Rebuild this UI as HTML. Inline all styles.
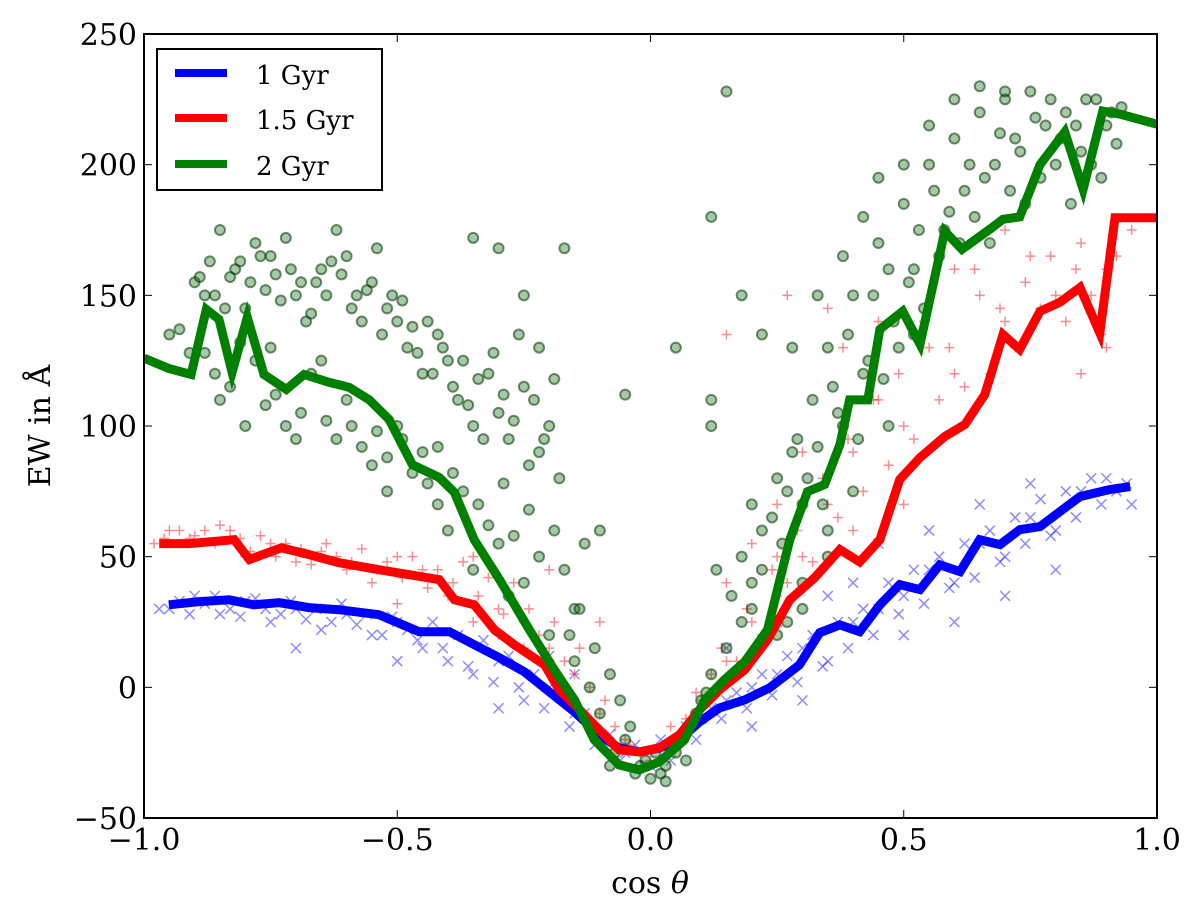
<!DOCTYPE html>
<html><head><meta charset="utf-8"><style>
html,body{margin:0;padding:0;background:#fff;}
svg text{font-family:"DejaVu Serif","Liberation Serif",serif;fill:#000;}
</style></head><body>
<svg id="chart" width="1200" height="913" viewBox="0 0 1200 913" xmlns="http://www.w3.org/2000/svg">
<defs><clipPath id="clip"><rect x="144" y="34" width="1013" height="784"/></clipPath></defs>
<g id="scatter" clip-path="url(#clip)"></g>
<g id="lines" clip-path="url(#clip)"></g>
<rect x="144" y="34" width="1013" height="784" fill="none" stroke="#000" stroke-width="2"/>
<g id="axes"></g>
<g>
<rect x="157" y="49" width="225" height="141" fill="#fff" stroke="#000" stroke-width="2"/>
<line x1="175" y1="73" x2="227" y2="73" stroke="#0000ff" stroke-width="8"/>
<text x="256" y="84" font-size="26">1 Gyr</text>
<line x1="175" y1="118" x2="227" y2="118" stroke="#ff0000" stroke-width="8"/>
<text x="256" y="129" font-size="26">1.5 Gyr</text>
<line x1="175" y1="164" x2="227" y2="164" stroke="#008000" stroke-width="8"/>
<text x="256" y="175" font-size="26">2 Gyr</text>
</g>
<text x="650" y="893" font-size="30" text-anchor="middle">cos <tspan font-style="italic">θ</tspan></text>
<text x="0" y="0" font-size="30" text-anchor="middle" transform="translate(50,426) rotate(-90)">EW in Å</text>
</svg>
<script>
const xTicks=[-1.0,-0.5,0.0,0.5,1.0];
const xTickLabels=["−1.0","−0.5","0.0","0.5","1.0"];
const yTicks=[-50,0,50,100,150,200,250];
const yTickLabels=["−50","0","50","100","150","200","250"];
const blueX=[-0.951,-0.891,-0.832,-0.783,-0.733,-0.674,-0.615,-0.536,-0.457,-0.397,-0.348,-0.298,-0.249,-0.2,-0.15,-0.101,-0.062,-0.022,0.018,0.057,0.097,0.136,0.186,0.235,0.294,0.334,0.374,0.413,0.453,0.492,0.532,0.571,0.611,0.65,0.69,0.729,0.769,0.808,0.848,0.907,0.947];
const blueY=[31.6,32.8,33.5,31.6,32.4,30.5,29.7,27.8,21.3,21.3,16.3,11.3,5.9,-1.7,-9.4,-18.2,-23.2,-24.7,-23.2,-20.1,-13.2,-7.9,-4.8,-0.2,8.6,20.9,23.9,21.3,31.6,39.3,37.4,46.9,44.3,56.5,54.6,60.3,61.5,67.2,73,75.7,76.8];
const redX=[-0.97,-0.911,-0.822,-0.792,-0.729,-0.674,-0.615,-0.536,-0.476,-0.417,-0.387,-0.348,-0.308,-0.269,-0.239,-0.209,-0.18,-0.14,-0.101,-0.062,-0.022,0.018,0.057,0.097,0.136,0.186,0.231,0.275,0.324,0.374,0.413,0.453,0.492,0.532,0.581,0.621,0.66,0.696,0.729,0.769,0.808,0.848,0.887,0.917,1.0];
const redY=[55,55,56.5,48.9,53.4,50.8,47.7,45,43.1,41.2,33.5,31.6,22,16.3,12.5,8.6,-1,-8.6,-16.3,-23.9,-24.7,-23.1,-18.2,-8.6,-1,6.7,18.2,33.5,41.9,52.7,48,56.5,79.5,87.9,96,100.6,112,135,129.3,143.9,147.3,153,135.6,179.7,179.7];
const greenX=[-1.0,-0.951,-0.907,-0.877,-0.852,-0.826,-0.796,-0.763,-0.719,-0.684,-0.634,-0.595,-0.555,-0.516,-0.47,-0.417,-0.387,-0.348,-0.298,-0.239,-0.19,-0.15,-0.111,-0.062,-0.022,0.018,0.067,0.107,0.146,0.186,0.231,0.275,0.31,0.344,0.374,0.393,0.429,0.453,0.498,0.532,0.581,0.615,0.67,0.696,0.729,0.769,0.818,0.854,0.893,0.927,1.0];
const greenY=[126,122,119.7,144.6,140.8,120.5,141.6,119.7,114,119.7,116.7,114.8,110,102.5,85.2,80.3,74.5,56.5,41.2,22,6.7,-4.8,-20.1,-29.7,-31.6,-28.5,-20.1,-4.8,2.9,9.8,22,56.5,74.9,77.6,92.9,110,110,137,143.9,131.3,174.5,167.6,175.3,179.1,180,200,212.5,190.6,220.5,219.3,215.5];
const gScatX=[-0.95,-0.9,-0.88,-0.85,-0.82,-0.8,-0.78,-0.75,-0.72,-0.7,-0.68,-0.65,-0.62,-0.6,-0.58,-0.55,-0.52,-0.5,-0.48,-0.45,-0.42,-0.4,-0.38,-0.35,-0.32,-0.3,-0.28,-0.25,-0.22,-0.2,-0.18,-0.85,-0.8,-0.75,-0.7,-0.65,-0.6,-0.55,-0.52,-0.5,-0.45,-0.42,-0.4,-0.35,-0.3,-0.28,-0.25,-0.2,-0.15,-0.12,-0.1,-0.05,-0.02,0.02,0.05,0.08,0.1,0.12,0.15,0.18,0.2,0.22,0.25,0.28,0.3,0.32,0.35,0.38,0.4,0.42,0.45,0.48,0.5,0.52,0.55,0.58,0.6,0.62,0.65,0.68,0.7,0.72,0.75,0.78,0.8,0.82,0.85,0.88,0.9,0.93,0.3,0.35,0.25,0.15,0.12,0.05,-0.05,0.12,0.2,-0.1,-0.15,-0.08,0.0,0.03,-0.03,0.07,
-0.93,-0.91,-0.89,-0.87,-0.86,-0.84,-0.83,-0.81,-0.79,-0.77,-0.76,-0.74,-0.73,-0.71,-0.69,-0.67,-0.66,-0.64,-0.63,-0.61,-0.59,-0.57,-0.56,-0.54,-0.53,-0.51,-0.49,-0.47,-0.46,-0.44,-0.43,-0.41,-0.39,-0.37,-0.36,-0.34,-0.33,-0.31,-0.29,-0.27,-0.26,-0.24,-0.23,-0.21,-0.19,-0.17,-0.3,-0.35,-0.25,-0.22,
-0.88,-0.86,-0.83,-0.81,-0.78,-0.76,-0.74,-0.72,-0.69,-0.67,-0.64,-0.62,-0.59,-0.57,-0.54,-0.52,-0.49,-0.47,-0.44,-0.42,-0.39,-0.37,-0.34,-0.32,-0.29,-0.27,-0.24,-0.22,-0.19,-0.17,-0.13,-0.14,-0.16,-0.11,-0.08,-0.06,-0.04,-0.07,-0.01,0.01,0.03,0.06,0.09,0.11,
0.13,0.16,0.18,0.2,0.22,0.24,0.26,0.27,0.29,0.31,0.33,0.34,0.36,0.37,0.39,0.41,0.43,0.44,0.46,0.47,0.49,0.51,0.53,0.54,0.56,0.57,0.59,0.61,0.63,0.64,0.66,0.67,0.69,0.71,0.73,0.74,0.76,0.77,0.79,0.81,0.83,0.84,0.86,0.87,0.89,0.91,0.92,0.55,0.5,0.45,0.42,0.38,0.33,0.28,0.22,0.18,0.12,0.3,0.27,0.35,0.6,0.65,0.7,0.47,0.4,0.52];
const gScatY=[135,155,150,175,160,145,170,165,172,150,140,160,175,165,150,155,145,140,130,120,135,125,110,100,120,105,95,115,90,100,80,110,100,130,95,125,110,85,75,100,90,70,60,45,55,35,40,20,10,0,-10,-20,-30,-33,-25,-15,-5,5,15,25,40,60,80,90,70,110,130,100,150,120,170,140,185,160,200,175,210,190,220,200,225,210,228,215,200,220,205,225,215,222,30,60,20,228,180,130,112,100,70,60,30,-30,-35,-36,-33,-28,
137,128,157,163,150,145,157,163,155,165,152,158,148,160,155,143,155,150,163,158,145,140,152,168,135,150,148,138,128,140,120,130,115,125,108,118,95,128,112,102,135,85,110,95,118,168,168,172,150,130,
128,120,115,132,125,108,112,100,105,120,102,95,100,92,98,88,95,82,78,92,82,75,70,62,78,58,68,50,60,45,55,30,20,15,5,-5,-15,-25,-28,-25,-30,-20,-10,-2,
45,35,50,30,45,65,55,75,95,80,92,70,115,105,135,95,125,150,118,160,130,155,175,145,190,165,182,170,200,180,195,170,212,190,205,185,218,195,225,210,185,215,225,200,195,220,208,215,200,195,180,165,150,130,135,150,110,40,25,50,225,230,228,100,75,135];
const rScatX=[-0.98,-0.95,-0.9,-0.85,-0.8,-0.75,-0.7,-0.65,-0.6,-0.55,-0.5,-0.45,-0.4,-0.35,-0.3,-0.25,-0.2,-0.15,-0.1,-0.05,0.0,0.05,0.1,0.15,0.2,0.25,0.3,0.35,0.4,0.45,0.5,0.55,0.6,0.65,0.7,0.75,0.8,0.85,0.9,0.95,0.35,0.4,0.5,0.6,0.7,0.45,0.25,0.15,-0.2,-0.1,0.9,0.85,
-0.96,-0.93,-0.91,-0.88,-0.86,-0.83,-0.81,-0.79,-0.77,-0.74,-0.72,-0.69,-0.67,-0.64,-0.62,-0.59,-0.57,-0.54,-0.52,-0.49,-0.47,-0.44,-0.42,-0.39,-0.37,-0.34,-0.32,-0.29,-0.27,-0.24,-0.22,-0.19,-0.17,-0.14,-0.12,-0.09,-0.07,-0.04,-0.02,0.02,0.04,0.07,0.09,0.12,0.14,0.17,0.19,0.22,0.24,0.27,0.29,0.32,0.34,0.37,0.39,0.42,0.44,0.47,0.49,0.52,0.54,0.57,0.59,0.62,0.64,0.67,0.69,0.72,0.74,0.77,0.79,0.82,0.84,0.87,0.89,0.92,0.3,0.25,0.2,0.38,0.27,0.15,-0.3,-0.25,-0.35,-0.5];
const rScatY=[55,60,58,62,50,55,48,52,45,40,50,45,35,50,30,25,15,5,-10,-20,-28,-20,-5,10,25,35,50,70,90,110,100,130,120,150,140,165,150,170,160,175,145,60,70,160,175,140,50,40,45,25,130,120,
57,60,57,60,55,60,57,52,58,50,55,53,47,55,50,48,53,45,48,42,50,38,45,40,48,35,42,28,40,30,20,25,10,15,0,-5,-15,-22,-25,-28,-15,-12,-2,5,15,10,30,20,45,40,60,48,80,65,95,75,110,85,120,95,140,110,130,115,160,120,145,130,155,145,165,140,160,150,135,165,90,70,55,130,150,135,20,15,25,32];
const bScatX=[-0.95,-0.9,-0.85,-0.8,-0.75,-0.7,-0.65,-0.6,-0.55,-0.5,-0.45,-0.4,-0.35,-0.3,-0.25,-0.2,-0.15,-0.1,-0.05,0.0,0.05,0.1,0.15,0.2,0.25,0.3,0.35,0.4,0.45,0.5,0.55,0.6,0.65,0.7,0.75,0.8,0.85,0.9,0.95,0.5,0.6,0.7,0.8,0.4,-0.3,-0.5,-0.7,0.3,0.2,0.45,
-0.97,-0.93,-0.91,-0.88,-0.86,-0.83,-0.81,-0.78,-0.76,-0.73,-0.71,-0.68,-0.66,-0.63,-0.61,-0.58,-0.56,-0.53,-0.51,-0.48,-0.46,-0.43,-0.41,-0.38,-0.36,-0.33,-0.31,-0.28,-0.26,-0.23,-0.21,-0.18,-0.16,-0.13,-0.11,-0.08,-0.06,-0.03,-0.01,0.02,0.04,0.07,0.09,0.12,0.14,0.17,0.19,0.22,0.24,0.27,0.29,0.32,0.34,0.37,0.39,0.42,0.44,0.47,0.49,0.52,0.54,0.57,0.59,0.62,0.64,0.67,0.69,0.72,0.74,0.77,0.79,0.82,0.84,0.87,0.89,0.92,0.94,0.55,0.65,0.75,0.35,0.25,0.15,-0.2,-0.15];
const bScatY=[30,35,28,33,25,30,22,28,20,25,15,10,5,10,-5,0,-10,-20,-25,-30,-22,-12,-5,0,5,15,10,25,30,35,45,40,55,50,65,60,75,80,70,20,25,35,45,40,-8,10,15,-5,-15,55,
30,33,28,32,35,30,27,34,30,28,33,26,30,25,32,24,28,20,27,22,18,25,15,20,8,18,2,12,0,5,-8,-2,-15,-10,-22,-18,-28,-22,-30,-20,-28,-15,-20,-8,-12,-2,-8,5,-3,12,2,20,8,25,15,30,20,40,28,45,32,50,38,55,42,60,48,65,55,72,58,75,65,80,70,75,78,60,70,78,35,25,15,12,5];

const X0=144,X1=1157,Y0=818,Y1=34;
const sx=v=>X0+(v+1)/2*(X1-X0);
const sy=v=>Y0-(v+50)/300*(Y0-Y1);
const NS="http://www.w3.org/2000/svg";
function mk(tag,attrs,parent){const e=document.createElementNS(NS,tag);for(const k in attrs)e.setAttribute(k,attrs[k]);parent.appendChild(e);return e;}
const axes=document.getElementById('axes');
xTicks.forEach((t,i)=>{
  const x=sx(t);
  const a=mk('line',{x1:x,y1:Y0,x2:x,y2:Y0-8,stroke:'#000','stroke-width':1},axes);
  
  
  const b=mk('line',{x1:x,y1:Y1,x2:x,y2:Y1+8,stroke:'#000','stroke-width':1},axes);
  
  
  const tx=mk('text',{x:x,y:850,'font-size':30,'text-anchor':'middle'},axes);
  tx.textContent=xTickLabels[i];
  
  
});
yTicks.forEach((t,i)=>{
  const y=sy(t);
  const a=mk('line',{x1:X0,y1:y,x2:X0+8,y2:y,stroke:'#000','stroke-width':1},axes);
  
  
  const b=mk('line',{x1:X1,y1:y,x2:X1-8,y2:y,stroke:'#000','stroke-width':1},axes);
  
  
  const tx=mk('text',{x:137,y:y+11,'font-size':30,'text-anchor':'end'},axes);
  tx.textContent=yTickLabels[i];
  
  
});
const sc=document.getElementById('scatter');
bScatX.forEach((v,i)=>{
  const x=sx(v),y=sy(bScatY[i]);
  const p=mk('path',{d:`M${x-5},${y-5}L${x+5},${y+5}M${x-5},${y+5}L${x+5},${y-5}`,stroke:'rgba(0,0,255,0.45)','stroke-width':1.5},sc);
  
  
});
rScatX.forEach((v,i)=>{
  const x=sx(v),y=sy(rScatY[i]);
  const p=mk('path',{d:`M${x-5},${y}H${x+5}M${x},${y-5}V${y+5}`,stroke:'rgba(255,0,0,0.45)','stroke-width':1.5},sc);
  
  
});
gScatX.forEach((v,i)=>{
  const c=mk('circle',{cx:sx(v),cy:sy(gScatY[i]),r:5,fill:'rgba(0,100,0,0.35)',stroke:'rgba(0,50,0,0.55)','stroke-width':2},sc);
  
  
});
const ln=document.getElementById('lines');
function line(xs,ys,col,name){
  const d=xs.map((v,i)=>(i?'L':'M')+sx(v).toFixed(1)+','+sy(ys[i]).toFixed(1)).join('');
  const p=mk('path',{d:d,fill:'none',stroke:col,'stroke-width':9,'stroke-linejoin':'miter'},ln);
  
  
}
line(blueX,blueY,'#0000ff','line-1gyr');
line(redX,redY,'#ff0000','line-1-5gyr');
line(greenX,greenY,'#008000','line-2gyr');
</script>
</body></html>
